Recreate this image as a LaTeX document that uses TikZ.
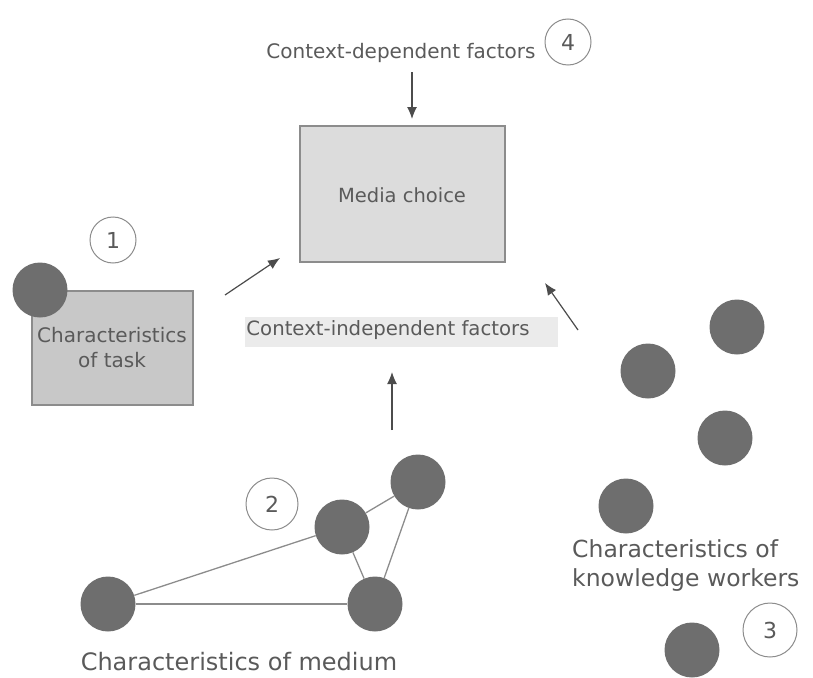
\documentclass[tikz,border=0pt]{standalone}
\usepackage{fontspec}
\setmainfont{DejaVu Sans}
\usetikzlibrary{arrows.meta}
\definecolor{dot}{HTML}{6E6E6E}
\definecolor{txt}{HTML}{5A5A5A}
\definecolor{boxfill}{HTML}{DCDCDC}
\definecolor{taskfill}{HTML}{C8C8C8}
\definecolor{edge}{HTML}{8C8C8C}
\tikzset{
  dotnode/.style={circle,fill=dot,minimum size=55pt,inner sep=0pt},
  numc/.style={circle,draw=edge,line width=1pt,fill=white,minimum size=46pt,inner sep=0pt,font=\fontsize{22}{24}\selectfont,text=txt},
  lbl/.style={text=txt,inner sep=0pt},
  arr/.style={draw=black!70,line width=1.2pt,-{Latex[length=12pt,width=10pt]}},
  link/.style={draw=edge,line width=1.3pt}
}
\begin{document}
\begin{tikzpicture}[x=1pt,y=-1pt]
\useasboundingbox (0,0) rectangle (813,677);
% media choice
\node[draw=edge,line width=1.2pt,fill=boxfill,minimum width=205pt,minimum height=136pt,inner sep=0pt] (media) at (402.5,194) {};
\node[lbl,font=\fontsize{19.5}{22}\selectfont] (mediat) at (402,195) {Media choice};
% top
\node[lbl,font=\fontsize{20}{24}\selectfont] (cdf) at (401,53) {Context-dependent factors};
\node[numc] (n4) at (568,42) {4};
\coordinate (cdfa) at (412,72);
\coordinate (cdfb) at (412,119);
\draw[arr] (cdfa) -- (cdfb);
% task
\node[draw=edge,line width=1.2pt,fill=taskfill,minimum width=161pt,minimum height=114pt,inner sep=0pt] (task) at (112.5,348) {};
\node[lbl,align=center,font=\fontsize{20}{25}\selectfont] (taskt) at (112,348) {Characteristics\\of task};
\node[dotnode] (td) at (40,290) {};
\node[numc] (n1) at (113,240) {1};
\coordinate (ta1) at (225,295);
\coordinate (ta2) at (280,258);
\draw[arr] (ta1) -- (ta2);
% context independent
\node[fill=black!8,minimum width=313pt,minimum height=30pt,inner sep=0pt] (cibg) at (401.5,332) {};
\node[lbl,font=\fontsize{19.7}{22}\selectfont] (ci) at (388,330) {Context-independent factors};
\coordinate (ia1) at (392,430);
\coordinate (ia2) at (392,372);
\draw[arr] (ia1) -- (ia2);
\coordinate (wa1) at (578,330);
\coordinate (wa2) at (545,283);
\draw[arr] (wa1) -- (wa2);
% medium
\node[dotnode] (ma) at (108,604) {};
\node[dotnode] (mb) at (342,527) {};
\node[dotnode] (mc) at (418,482) {};
\node[dotnode] (md) at (375,604) {};
\draw[link] (ma) -- (mb);
\draw[link] (ma) -- (md);
\draw[link] (mb) -- (mc);
\draw[link] (mb) -- (md);
\draw[link] (mc) -- (md);
\node[numc,minimum size=52pt] (n2) at (272,504) {2};
\node[lbl,font=\fontsize{24}{28}\selectfont] (mt) at (239,662) {Characteristics of medium};
% workers
\node[dotnode] (w1) at (737,327) {};
\node[dotnode] (w2) at (648,371) {};
\node[dotnode] (w3) at (725,438) {};
\node[dotnode] (w4) at (626,506) {};
\node[dotnode] (w5) at (692,650) {};
\node[lbl,align=left,anchor=west,font=\fontsize{23.5}{29}\selectfont] (wt) at (572,566) {Characteristics of\\knowledge workers};
\node[numc,minimum size=54pt] (n3) at (770,630) {3};
\end{tikzpicture}
\end{document}
